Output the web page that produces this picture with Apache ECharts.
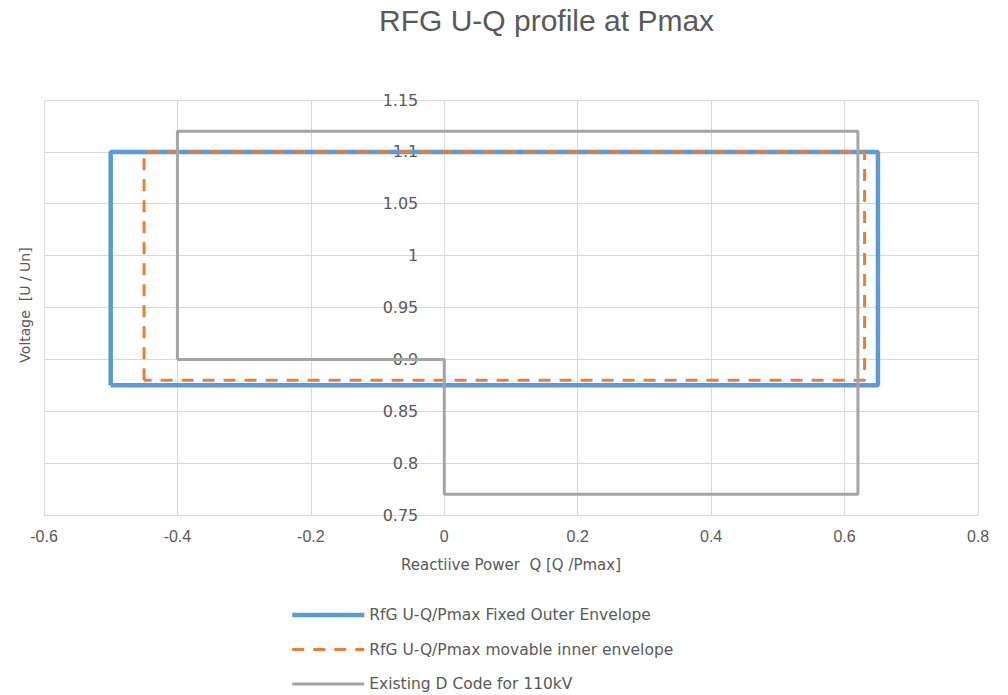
<!DOCTYPE html>
<html>
<head>
<meta charset="utf-8">
<script src="https://cdn.jsdelivr.net/npm/echarts@6/dist/echarts.min.js"></script>
<style>
  html, body { margin: 0; padding: 0; background: #ffffff; }
  #chart { width: 1008px; height: 695px; }
</style>
</head>
<body>
<div id="chart"></div>
<script>
// Envelope outlines as [Q/Pmax, U/Un] corner points
const outerEnvelope = [[-0.5, 0.875], [-0.5, 1.1], [0.65, 1.1], [0.65, 0.875], [-0.5, 0.875]];
const innerEnvelope = [[-0.45, 0.88], [-0.45, 1.1], [0.63, 1.1], [0.63, 0.88], [-0.45, 0.88]];
const dCode110kV = [[-0.4, 0.9], [-0.4, 1.12], [0.62, 1.12], [0.62, 0.77], [0, 0.77], [0, 0.9], [-0.4, 0.9]];

const seriesNames = [
  'RfG U-Q/Pmax Fixed Outer Envelope',
  'RfG U-Q/Pmax movable inner envelope',
  'Existing D Code for 110kV'
];

const xTicks = { min: -0.6, max: 0.8, interval: 0.2 };
const yTicks = { min: 0.75, max: 1.15, interval: 0.05 };

const textColor = '#595959';
const gridColor = '#d9d9d9';

// plot rectangle in pixels
const gridLeft = 44, gridRight = 30, gridTop = 100, gridBottom = 180;
const plotWidth = 1008 - gridLeft - gridRight;
// the voltage axis sits on Q = 0
const zeroOffset = plotWidth * (0 - xTicks.min) / (xTicks.max - xTicks.min);

const chart = echarts.init(document.getElementById('chart'), null, { renderer: 'svg' });

chart.setOption({
  animation: false,
  backgroundColor: '#ffffff',
  title: {
    text: 'RFG U-Q profile at Pmax',
    left: 374,
    top: 0,
    textStyle: { fontFamily: 'Liberation Sans', fontSize: 30, fontWeight: 'normal', color: textColor }
  },
  grid: {
    left: gridLeft, right: gridRight, top: gridTop, bottom: gridBottom,
    containLabel: false, outerBoundsMode: 'none'
  },
  xAxis: {
    type: 'value',
    min: xTicks.min, max: xTicks.max, interval: xTicks.interval,
    name: 'Reactiive Power  Q [Q /Pmax]',
    nameLocation: 'middle',
    nameGap: 42,
    nameTextStyle: { fontFamily: 'DejaVu Sans', fontSize: 15, color: textColor },
    axisLine: { show: true, onZero: false, lineStyle: { color: gridColor, width: 1 } },
    axisTick: { show: false },
    axisLabel: {
      margin: 13,
      fontFamily: 'Liberation Sans', fontSize: 16, color: textColor,
      formatter: v => String(Math.round(v * 10) / 10)
    },
    splitLine: { show: true, lineStyle: { color: gridColor, width: 1 } }
  },
  yAxis: {
    type: 'value',
    position: 'left',
    offset: -zeroOffset,
    min: yTicks.min, max: yTicks.max, interval: yTicks.interval,
    axisLine: { show: false },
    axisTick: { show: false },
    axisLabel: {
      margin: 26,
      fontFamily: 'DejaVu Sans', fontSize: 16, color: textColor,
      formatter: v => String(Math.round(v * 100) / 100)
    },
    splitLine: { show: true, lineStyle: { color: gridColor, width: 1 } }
  },
  graphic: [{
    type: 'text',
    x: 25, y: 305,
    rotation: Math.PI / 2,
    style: {
      text: 'Voltage  [U / Un]',
      fontFamily: 'DejaVu Sans', fontSize: 14, fill: textColor,
      textAlign: 'center', textVerticalAlign: 'middle'
    }
  }],
  legend: {
    orient: 'vertical',
    left: 285,
    top: 602,
    height: 92,
    itemWidth: 72,
    itemHeight: 14,
    itemGap: 18.5,
    itemStyle: { opacity: 0 },
    lineStyle: { width: 'inherit' },
    textStyle: { fontFamily: 'DejaVu Sans', fontSize: 15.5, color: textColor, lineHeight: 15 },
    data: seriesNames
  },
  series: [
    {
      name: seriesNames[0], type: 'line', data: outerEnvelope,
      symbol: 'none', z: 2,
      lineStyle: { color: '#5b9bd5', width: 4.5 },
      itemStyle: { color: '#5b9bd5' }
    },
    {
      name: seriesNames[1], type: 'line', data: innerEnvelope,
      symbol: 'none', z: 3,
      lineStyle: { color: '#ed7d31', width: 3, type: [12, 9] },
      itemStyle: { color: '#ed7d31' }
    },
    {
      name: seriesNames[2], type: 'line', data: dCode110kV,
      symbol: 'none', z: 4,
      lineStyle: { color: '#a5a5a5', width: 3 },
      itemStyle: { color: '#a5a5a5' }
    }
  ]
});
</script>
</body>
</html>
